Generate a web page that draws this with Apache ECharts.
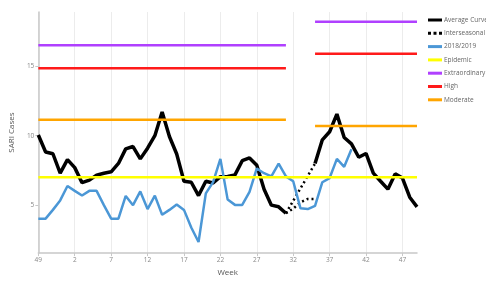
<!DOCTYPE html>
<html>
<head>
<meta charset="utf-8">
<script src="https://cdn.jsdelivr.net/npm/echarts@6/dist/echarts.min.js"></script>
<style>
  html, body { margin: 0; padding: 0; background: #fff; }
  #chart { width: 486px; height: 282px; }
</style>
</head>
<body>
<div id="chart"></div>
<script>
// Semanas epidemiológicas (49 del año anterior hasta 49 del siguiente)
const weeks = ['49', '50', '51', '52', '1', '2', '3', '4', '5', '6', '7', '8', '9', '10',
    '11', '12', '13', '14', '15', '16', '17', '18', '19', '20', '21', '22', '23', '24',
    '25', '26', '27', '28', '29', '30', '31', '32', '33', '34', '35', '36', '37', '38',
    '39', '40', '41', '42', '43', '44', '45', '46', '47', '48', '49 '];

// Curva promedio (hueco entre semanas 32-34, ahí va el tramo interestacional)
const averageCurve = [10.05, 8.83, 8.7, 7.3, 8.28, 7.7, 6.62, 6.8, 7.16, 7.3, 7.4, 8.0,
    9.05, 9.22, 8.33, 9.1, 10.0, 11.7, 9.94, 8.68, 6.72, 6.65, 5.69, 6.72, 6.6, 7.05,
    7.07, 7.18, 8.2, 8.4, 7.87, 6.15, 5.0, 4.88, 4.42, null, null, null, 8.0, 9.7, 10.28,
    11.55, 9.87, 9.41, 8.45, 8.72, 7.3, 6.72, 6.15, 7.25, 6.95, 5.57, 4.88];

// Tramos interestacionales: [índice de semana, valor]
const interseasonalA = [[34, 4.42], [38, 8.0]];
const interseasonalB = [[34, 4.42], [35, 4.75], [36, 5.2], [37, 5.45], [38, 5.45]];

// Temporada 2018/2019
const season2019 = [4.03, 4.03, 4.66, 5.34, 6.38, 6.03, 5.69, 6.03, 6.03, 5.0, 4.03, 4.03,
    5.66, 5.0, 5.99, 4.72, 5.69, 4.31, 4.66, 5.05, 4.66, 3.39, 2.35, 5.85, 6.66, 8.33,
    5.4, 5.02, 5.02, 5.95, 7.64, 7.3, 7.07, 7.99, 7.07, 6.72, 4.77, 4.72, 4.95, 6.65,
    6.95, 8.33, 7.76, 9.02];

// Umbrales: nombre, valor en el primer tramo y en el segundo
const thresholdNames = ['Epidemic', 'Extraordinary', 'High', 'Moderate'];
const thresholdColors = ['#ffff00', '#b040ff', '#ff1a1a', '#ffa500'];
const thresholdFirst = [7.0, 16.5, 14.85, 11.15];
const thresholdSecond = [7.0, 18.2, 15.9, 10.7];
const firstSpan = [0, 34];
const secondSpan = [38, 52];

const yTicks = [5, 10, 15];

const chart = echarts.init(document.getElementById('chart'), null, { renderer: 'canvas' });

const font = 'Open Sans';
const dotsIcon = 'path://M0,0h3v3h-3z M5.5,0h3v3h-3z M11,0h3v3h-3z';

const series = [
    {
        name: 'Average Curve',
        type: 'line',
        data: averageCurve,
        symbol: 'none',
        color: '#000',
        lineStyle: { width: 3.5, color: '#000' },
        z: 3
    },
    {
        name: 'Interseasonal',
        type: 'line',
        data: interseasonalA,
        symbol: 'none',
        color: '#000',
        lineStyle: { width: 2.5, color: '#000', type: [2, 3] },
        z: 3
    },
    {
        name: 'Interseasonal',
        type: 'line',
        data: interseasonalB,
        symbol: 'none',
        color: '#000',
        lineStyle: { width: 2.5, color: '#000', type: [2, 3] },
        z: 3
    },
    {
        name: '2018/2019',
        type: 'line',
        data: season2019,
        symbol: 'none',
        color: '#4b97d6',
        lineStyle: { width: 2.5, color: '#4b97d6' },
        z: 3
    }
];

thresholdNames.forEach((name, i) => {
    const data = [
        [firstSpan[0], thresholdFirst[i]],
        [firstSpan[1], thresholdFirst[i]],
        [firstSpan[1] + 1, null],
        [secondSpan[0], thresholdSecond[i]],
        [secondSpan[1], thresholdSecond[i]]
    ];
    series.push({
        name: name,
        type: 'line',
        data: data,
        symbol: 'none',
        // la línea epidémica es continua en la referencia
        connectNulls: name === 'Epidemic',
        color: thresholdColors[i],
        lineStyle: { width: 2.5, color: thresholdColors[i] },
        z: 4
    });
});

const option = {
    backgroundColor: '#fff',
    animation: false,
    textStyle: { fontFamily: font },
    grid: { left: 30, right: 69, top: 12, bottom: 19, containLabel: false },
    legend: {
        orient: 'vertical',
        left: 428,
        top: 16,
        padding: 0,
        itemWidth: 14,
        itemHeight: 3,
        itemGap: 5.3,
        data: [
            { name: 'Average Curve', icon: 'rect', itemStyle: { color: '#000' } },
            { name: 'Interseasonal', icon: dotsIcon, itemStyle: { color: '#000' } },
            { name: '2018/2019', icon: 'rect' },
            { name: 'Epidemic', icon: 'rect' },
            { name: 'Extraordinary', icon: 'rect' },
            { name: 'High', icon: 'rect' },
            { name: 'Moderate', icon: 'rect' }
        ],
        textStyle: { fontSize: 6.5, color: '#666', fontFamily: font, lineHeight: 8, padding: [0, 0, 0, -3] }
    },
    xAxis: {
        type: 'category',
        data: weeks,
        boundaryGap: false,
        name: 'Week',
        nameLocation: 'middle',
        nameGap: 12,
        nameTextStyle: { fontSize: 8, color: '#555', fontFamily: font },
        axisLine: { lineStyle: { color: '#c8c8c8', width: 1.5 } },
        axisTick: { interval: 4, length: 3, lineStyle: { color: '#c8c8c8' } },
        axisLabel: { interval: 4, fontSize: 6.5, color: '#888', margin: 4, fontFamily: font },
        splitLine: { show: true, interval: 4, lineStyle: { color: '#ececec', width: 1 } }
    },
    yAxis: {
        type: 'value',
        min: 1.55,
        max: 18.9,
        name: 'SARI Cases',
        nameLocation: 'middle',
        nameGap: 15,
        nameTextStyle: { fontSize: 8, color: '#555', fontFamily: font },
        axisLine: { show: true, lineStyle: { color: '#c8c8c8', width: 1.5 } },
        axisTick: { show: true, length: 3, customValues: yTicks, lineStyle: { color: '#c8c8c8' } },
        axisLabel: { fontSize: 6.5, color: '#888', margin: 4, customValues: yTicks, fontFamily: font },
        splitLine: { show: false }
    },
    series: series
};

chart.setOption(option);
</script>
</body>
</html>
